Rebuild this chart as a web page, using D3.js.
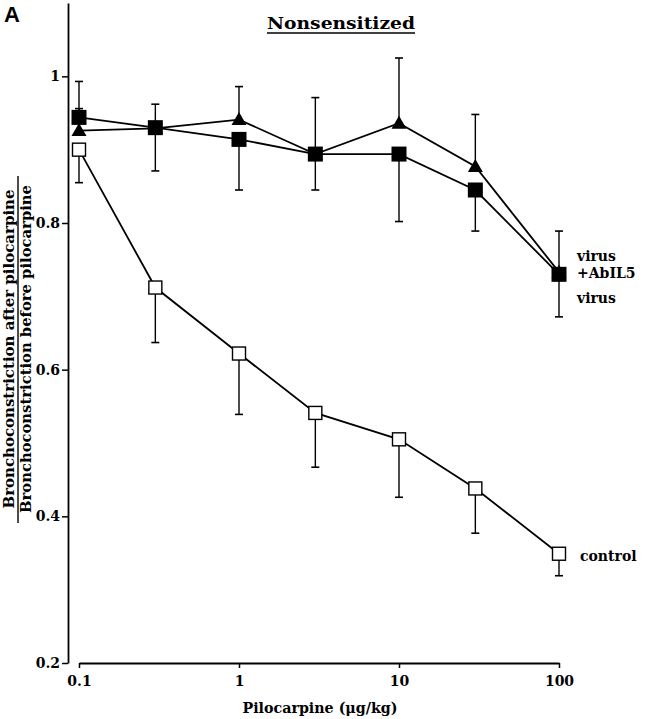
<!DOCTYPE html>
<html><head><meta charset="utf-8">
<script src="https://cdn.jsdelivr.net/npm/d3@7"></script>
<style>
body{margin:0;background:#fff}
svg{display:block}
text{font-family:"DejaVu Serif",serif;font-weight:bold;fill:#000}
</style>
</head><body><svg id="c" width="645" height="719"></svg>
<script>
// ---- data ----
const doses = [0.1, 0.3, 1, 3, 10, 30, 100];
const xTicks = [0.1, 1, 10, 100];
const xTickLabels = ["0.1", "1", "10", "100"];
const yTicks = [0.2, 0.4, 0.6, 0.8, 1];
const yTickLabels = ["0.2", "0.4", "0.6", "0.8", "1"];

const abil5Values = [0.926, 0.929, 0.941, 0.894, 0.936, 0.877, 0.733];
const abil5ErrHi  = [0.956, 0.962, 0.986, 0.971, 1.025, 0.948, 0.789];
const abil5ErrLo  = [null, null, null, null, null, null, null];

const virusValues = [0.944, 0.930, 0.914, 0.894, 0.894, 0.845, 0.730];
const virusErrHi  = [0.993, null, null, null, null, null, null];
const virusErrLo  = [null, 0.871, 0.845, 0.845, 0.802, 0.789, 0.672];

const controlValues = [0.900, 0.712, 0.622, 0.541, 0.505, 0.438, 0.349];
const controlErrHi  = [null, null, null, null, null, null, null];
const controlErrLo  = [0.855, 0.637, 0.539, 0.467, 0.426, 0.377, 0.319];

const svg = d3.select("#c");
const x = d3.scaleLog().domain([0.1, 100]).range([79, 559]);
const y = d3.scaleLinear().domain([0.2, 1.1]).range([663, 3]);

// axes
const yAxis = d3.axisLeft(y).tickValues(yTicks)
  .tickFormat((d, i) => yTickLabels[i]).tickSize(6).tickSizeOuter(0).tickPadding(2);
const gy = svg.append("g").attr("transform", "translate(68,0)").call(yAxis);
gy.select(".domain").attr("stroke-width", 1.8);
gy.selectAll(".tick line").attr("stroke-width", 1.5);
gy.selectAll(".tick text").style("font-size", "14px").style("font-family", "DejaVu Serif").style("font-weight", "bold");

const xAxis = d3.axisBottom(x).tickValues(xTicks)
  .tickFormat((d, i) => xTickLabels[i]).tickSize(5).tickSizeOuter(0).tickPadding(8);
const gx = svg.append("g").attr("transform", "translate(0,663)").call(xAxis);
gx.select(".domain").attr("stroke-width", 1.8);
gx.selectAll(".tick line").attr("stroke-width", 1.5);
gx.selectAll(".tick text").style("font-size", "14px").style("font-family", "DejaVu Serif").style("font-weight", "bold");

// axis titles
svg.append("text").attr("x", 320).attr("y", 713).attr("text-anchor", "middle")
  .style("font-size", "14px").attr("textLength", 155).attr("lengthAdjust", "spacingAndGlyphs")
  .text("Pilocarpine (\u03bcg/kg)");

const cy = 349;
svg.append("text").attr("transform", `translate(14,${cy}) rotate(-90)`).attr("text-anchor", "middle")
  .style("font-size", "14.5px").attr("textLength", 319).attr("lengthAdjust", "spacingAndGlyphs")
  .text("Bronchoconstriction after pilocarpine");
svg.append("line").attr("x1", 18).attr("x2", 18).attr("y1", 176).attr("y2", 523)
  .attr("stroke", "#000").attr("stroke-width", 1.4);
svg.append("text").attr("transform", `translate(31,${cy}) rotate(-90)`).attr("text-anchor", "middle")
  .style("font-size", "14.5px").attr("textLength", 328).attr("lengthAdjust", "spacingAndGlyphs")
  .text("Bronchoconstriction before pilocarpine");

// panel letter and title
svg.append("text").attr("x", 4).attr("y", 22)
  .style("font-family", "'Liberation Sans', Arial, sans-serif").style("font-size", "22px").text("A");
svg.append("text").attr("x", 341).attr("y", 29).attr("text-anchor", "middle")
  .style("font-size", "17px").attr("textLength", 148).attr("lengthAdjust", "spacingAndGlyphs")
  .text("Nonsensitized");
svg.append("line").attr("x1", 267).attr("x2", 415).attr("y1", 33).attr("y2", 33)
  .attr("stroke", "#000").attr("stroke-width", 1.5);

// series
const series = [
  {name: "abil5", v: abil5Values, hi: abil5ErrHi, lo: abil5ErrLo, shape: "tri"},
  {name: "virus", v: virusValues, hi: virusErrHi, lo: virusErrLo, shape: "fsq"},
  {name: "control", v: controlValues, hi: controlErrHi, lo: controlErrLo, shape: "osq"}
];

const line = d3.line().x(d => x(d.d)).y(d => y(d.v));
series.forEach(s => {
  s.pts = doses.map((d, i) => ({d, v: s.v[i], hi: s.hi[i], lo: s.lo[i]}));
  svg.append("path").datum(s.pts).attr("d", line)
    .attr("fill", "none").attr("stroke", "#000").attr("stroke-width", 1.8);
});

// error bars
series.forEach(s => {
  s.pts.forEach(p => {
    [p.hi, p.lo].forEach(e => {
      if (e == null) return;
      svg.append("line").attr("x1", x(p.d)).attr("x2", x(p.d)).attr("y1", y(p.v)).attr("y2", y(e))
        .attr("stroke", "#000").attr("stroke-width", 1.4);
      svg.append("line").attr("x1", x(p.d) - 4).attr("x2", x(p.d) + 4).attr("y1", y(e)).attr("y2", y(e))
        .attr("stroke", "#000").attr("stroke-width", 1.6);
    });
  });
});

// markers
series.forEach(s => {
  const g = svg.append("g");
  s.pts.forEach(p => {
    const cx = x(p.d), cyy = y(p.v);
    if (s.shape === "tri") {
      g.append("path").attr("d", `M${cx},${cyy - 7.5}L${cx + 7.5},${cyy + 5.5}L${cx - 7.5},${cyy + 5.5}Z`).attr("fill", "#000");
    } else if (s.shape === "fsq") {
      g.append("rect").attr("x", cx - 7.5).attr("y", cyy - 7.5).attr("width", 15).attr("height", 15).attr("fill", "#000");
    } else {
      g.append("rect").attr("x", cx - 6.5).attr("y", cyy - 6.5).attr("width", 13).attr("height", 13)
        .attr("fill", "#fff").attr("stroke", "#000").attr("stroke-width", 1.4);
    }
  });
});

// series labels
const lab = (t, xx, yy) => svg.append("text").attr("x", xx).attr("y", yy).style("font-size", "14px").text(t);
lab("virus", 577, 261);
lab("+AbIL5", 577, 278);
lab("virus", 577, 303);
lab("control", 580, 561);
</script>
</body></html>
